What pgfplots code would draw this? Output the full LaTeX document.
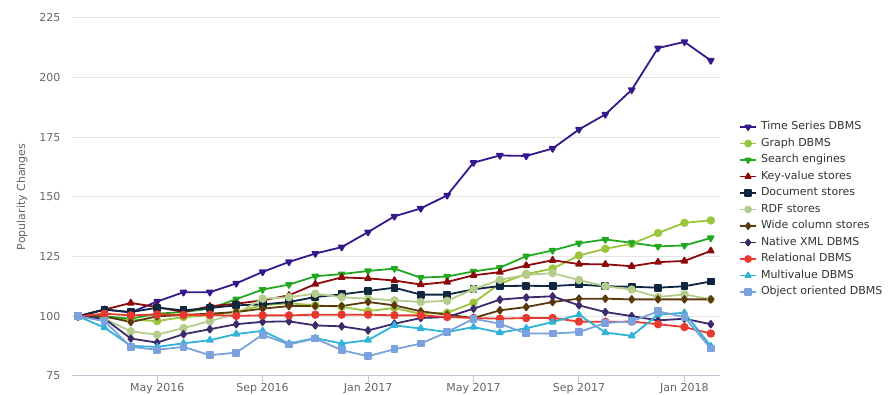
\documentclass[border=0pt]{standalone}
\usepackage{pgfplots}
\pgfplotsset{compat=1.18}
\usepackage{pgfplotstable}
\usepackage{fontspec}
\setmainfont{DejaVu Sans}
\definecolor{cts}{HTML}{35198C}
\definecolor{cgraph}{HTML}{9BC53D}
\definecolor{csearch}{HTML}{22A822}
\definecolor{ckv}{HTML}{8E0A0A}
\definecolor{cdoc}{HTML}{0E2640}
\definecolor{crdf}{HTML}{B5CD8C}
\definecolor{cwide}{HTML}{5A3A0C}
\definecolor{cxml}{HTML}{3D2A6A}
\definecolor{crel}{HTML}{E8392E}
\definecolor{cmv}{HTML}{30B3D6}
\definecolor{coo}{HTML}{7BA2DC}
\definecolor{gridc}{HTML}{E6E6E6}
\definecolor{axc}{HTML}{C0C8D8}
\definecolor{tickc}{HTML}{666666}
\pgfplotstableread{
i ts graph search kv doc rdf wide xml rel mv oo
0 100 100 100 100 100 100 100 100 100 100 100
1 102.9 99.5 100 102.8 102.8 99 100 99 101.1 95.3 98
2 101.6 98.6 99 105.6 101.8 93.7 97.6 90.7 100.4 87.6 87.2
3 106.2 98 101.1 103.9 103.6 92.3 100 89 100.8 87.2 86
4 110.1 99.7 101.8 101.8 102.5 95.1 100.6 92.5 100.6 88.7 87.2
5 110.1 100.4 103.2 104.2 103.5 98 101.1 94.6 100.6 90 83.7
6 113.8 102 107.2 105.3 104.6 101.1 101.8 96.7 100.2 92.6 84.8
7 118.6 104.6 111.2 106.7 105 107.4 103.2 97.7 100.4 93.9 92.3
8 122.8 105.5 113.3 108.8 106 108 104.3 97.9 100.4 88.6 88.2
9 126.3 104.6 116.8 113.5 108.1 109.5 104.3 96.2 100.7 90.9 90.7
10 129 104 117.7 116.3 109.2 108 104.3 95.8 100.7 88.6 85.8
11 135.3 102.2 119 115.9 110.6 107.4 106 94.1 100.7 90 83.3
12 141.9 103.5 120 115 112 106.7 104.6 96.9 100.4 96.2 86.2
13 145.2 101 116.2 113.3 109.1 106 102.1 99.3 100.4 94.9 88.6
14 150.7 101.5 116.7 114.4 109.1 106.5 100.7 99.7 99.7 93.4 93.4
15 164.4 105.7 118.8 117.2 111.3 111.4 99.3 103.2 99.3 95.5 99
16 167.4 113.7 120.4 118.5 112.7 115.3 102.5 107 99 93.2 96.9
17 167.2 117.7 125.2 121.3 112.8 117.4 103.9 107.9 99.3 95 92.8
18 170.3 120 127.6 123.5 112.7 118.1 106 108.4 99.3 97.6 92.8
19 178.3 125.5 130.6 121.9 113.3 115.2 107.4 104.6 97.8 100.7 93.4
20 184.6 128.3 132.2 121.8 112.6 112.6 107.4 101.8 97.7 93.2 97.2
21 194.9 130.4 130.8 121 112.4 111.2 107.1 100.1 97.8 91.8 97.9
22 212.4 134.9 129.3 122.7 112 108.1 107.1 98.3 96.7 100.7 102.1
23 215 139.2 129.7 123.2 112.6 109.2 107.1 99 95.5 101.5 99.7
24 207.2 140.2 132.8 127.4 114.6 107.1 107.1 96.7 92.8 87.5 86.5
}\datatable
\begin{document}
\begin{tikzpicture}[x=1pt,y=1pt]
\useasboundingbox (0,0) rectangle (894,395);
\begin{axis}[
  at={(72pt,19pt)}, anchor=south west,
  scale only axis, width=648pt, height=358pt,
  xmin=-0.23, xmax=24.35, ymin=75, ymax=225,
  ytick={75,100,125,150,175,200,225},
  xtick={3,7,11,15,19,23},
  xticklabels={May 2016,Sep 2016,Jan 2017,May 2017,Sep 2017,Jan 2018},
  axis x line*=bottom,
  axis y line*=left,
  x axis line style={draw=axc, line width=1pt, -},
  y axis line style={draw=none},
  ymajorgrids, grid style={gridc, line width=1pt},
  y tick style={draw=none},
  x tick style={draw=axc, line width=1pt},
  xtick align=outside, major tick length=6pt,
  ticklabel style={font=\fontsize{11}{13}\selectfont, text=tickc},
  /pgf/number format/assume math mode=true,
  yticklabel style={anchor=east, xshift=-8pt},
  xticklabel style={yshift=2pt, anchor=north},
  ylabel={Popularity Changes},
  every axis y label/.style={at={([xshift=-50pt]axis description cs:0,0.5)}, rotate=90, anchor=center, font=\fontsize{11}{13}\selectfont, text=tickc},
  clip=false,
  every axis plot/.append style={line width=1.8pt, mark size=3.3pt, line join=round},
  legend cell align=left,
  legend style={at={(1.0247,0.465)}, anchor=west, draw=none, fill=none,
    font=\fontsize{11}{13}\selectfont, text=black!80,
    nodes={inner sep=0pt, text height=8pt, text depth=2.5pt},
    row sep=6pt, column sep=4pt},
  legend image code/.code={\draw[line width=1.8pt, mark size=3pt, mark repeat=2, mark phase=2] plot coordinates {(0pt,0pt) (8pt,0pt) (16pt,0pt)};},
]
\addplot[cts, mark=triangle*, mark options={rotate=180}] table[x=i,y=ts]{\datatable};
\addlegendentry{Time Series DBMS}
\addplot[cgraph, mark=*] table[x=i,y=graph]{\datatable};
\addlegendentry{Graph DBMS}
\addplot[csearch, mark=triangle*, mark options={rotate=180}] table[x=i,y=search]{\datatable};
\addlegendentry{Search engines}
\addplot[ckv, mark=triangle*] table[x=i,y=kv]{\datatable};
\addlegendentry{Key-value stores}
\addplot[cdoc, mark=square*, mark size=3pt] table[x=i,y=doc]{\datatable};
\addlegendentry{Document stores}
\addplot[crdf, mark=*] table[x=i,y=rdf]{\datatable};
\addlegendentry{RDF stores}
\addplot[cwide, mark=diamond*] table[x=i,y=wide]{\datatable};
\addlegendentry{Wide column stores}
\addplot[cxml, mark=diamond*] table[x=i,y=xml]{\datatable};
\addlegendentry{Native XML DBMS}
\addplot[crel, mark=*] table[x=i,y=rel]{\datatable};
\addlegendentry{Relational DBMS}
\addplot[cmv, mark=triangle*] table[x=i,y=mv]{\datatable};
\addlegendentry{Multivalue DBMS}
\addplot[coo, mark=square*, mark size=3pt] table[x=i,y=oo]{\datatable};
\addlegendentry{Object oriented DBMS}
\end{axis}
\end{tikzpicture}
\end{document}
